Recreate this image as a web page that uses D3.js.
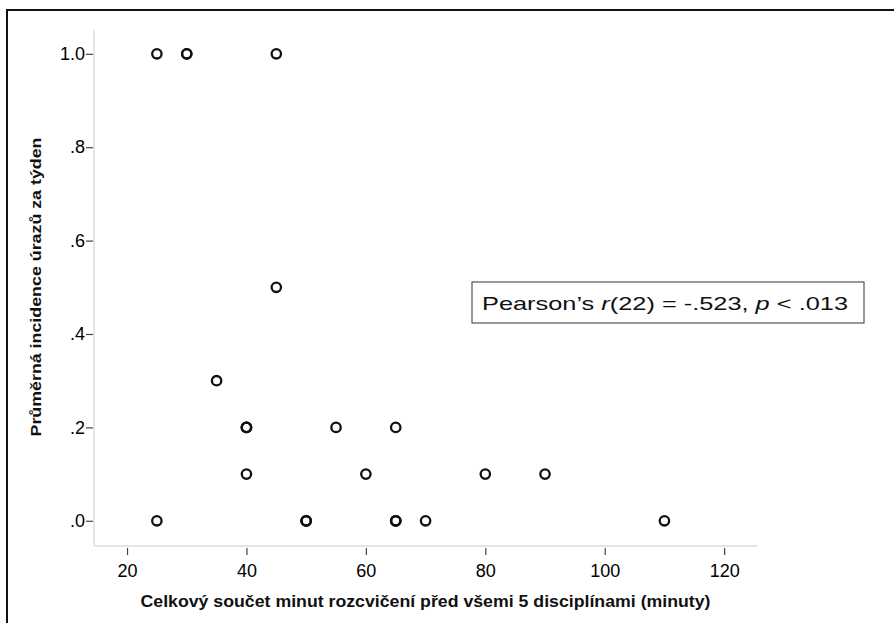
<!DOCTYPE html>
<html>
<head>
<meta charset="utf-8">
<script src="https://cdn.jsdelivr.net/npm/d3@7"></script>
<style>
  body { margin: 0; background: #fff; }
  svg { display: block; font-family: "Liberation Sans", Arial, sans-serif; }
</style>
</head>
<body>
<div id="chart"></div>
<script>
// Warm-up minutes (x) and mean injury incidence per week (y), one entry per athlete
const minutes = [25, 30, 30, 45, 45, 35, 40, 40, 40, 55, 65, 40, 60, 80, 90, 25, 50, 50, 50, 65, 65, 65, 70, 110];
const incidence = [1.0, 1.0, 1.0, 1.0, 0.5, 0.3, 0.2, 0.2, 0.2, 0.2, 0.2, 0.1, 0.1, 0.1, 0.1, 0.0, 0.0, 0.0, 0.0, 0.0, 0.0, 0.0, 0.0, 0.0];
const xTicks = [20, 40, 60, 80, 100, 120];
const yTicks = [0, 0.2, 0.4, 0.6, 0.8, 1.0];
const xLabel = "Celkový součet minut rozcvičení před všemi 5 disciplínami (minuty)";
const yLabel = "Průměrná incidence úrazů za týden";

const W = 894, H = 623;
const plot = { left: 94, right: 757, top: 30, bottom: 546 };

const svg = d3.select("#chart").append("svg")
  .attr("width", W)
  .attr("height", H);

// outer frame (runs off the right / bottom of the picture)
svg.append("rect")
  .attr("x", 7).attr("y", 10)
  .attr("width", W).attr("height", H)
  .attr("fill", "none")
  .attr("stroke", "#111")
  .attr("stroke-width", 2);

const x = d3.scaleLinear().domain([14.47, 125.5]).range([plot.left, plot.right]);
const y = d3.scaleLinear().domain([-0.054, 1.051]).range([plot.bottom, plot.top]);

const yFmt = d => d === 1 ? "1.0" : d3.format(".1f")(d).replace(/^0/, "");

// x axis
const gx = svg.append("g")
  .attr("transform", `translate(0,${plot.bottom})`)
  .call(d3.axisBottom(x).tickValues(xTicks).tickSize(9).tickPadding(9).tickSizeOuter(0));
gx.select(".domain").attr("stroke", "#dcdcdc").attr("stroke-width", 1.5)
  .attr("d", `M${plot.left},0H${plot.right}`);
gx.selectAll(".tick line").attr("stroke", "#444").attr("stroke-width", 1.2).attr("y1", 2);
gx.selectAll(".tick text").attr("font-size", 18).attr("fill", "#000")
  .attr("font-family", "Liberation Sans, Arial, sans-serif");

// y axis
const gy = svg.append("g")
  .attr("transform", `translate(${plot.left},0)`)
  .call(d3.axisLeft(y).tickValues(yTicks).tickFormat(yFmt).tickSize(7).tickPadding(2).tickSizeOuter(0));
gy.select(".domain").attr("stroke", "#dcdcdc").attr("stroke-width", 1.5)
  .attr("d", `M0,${plot.top}V${plot.bottom}`);
gy.selectAll(".tick line").attr("stroke", "#444").attr("stroke-width", 1.2).attr("x2", -8).attr("x1", -1);
gy.selectAll(".tick text").attr("font-size", 18).attr("fill", "#000")
  .attr("font-family", "Liberation Sans, Arial, sans-serif");

// points
const points = minutes.map((m, i) => ({ m: m, v: incidence[i] }));
svg.append("g")
  .selectAll("circle")
  .data(points)
  .enter()
  .append("circle")
  .attr("cx", d => x(d.m))
  .attr("cy", d => y(d.v))
  .attr("r", 4.7)
  .attr("fill", "none")
  .attr("stroke", "#111")
  .attr("stroke-width", 2.3);

// axis titles (the source picture is a little wider than tall, so stretch text)
svg.append("text")
  .attr("x", (plot.left + plot.right) / 2)
  .attr("y", 607)
  .attr("text-anchor", "middle")
  .attr("font-size", 16.5)
  .attr("font-weight", "bold")
  .attr("fill", "#111")
  .attr("textLength", 570)
  .attr("lengthAdjust", "spacingAndGlyphs")
  .text(xLabel);

svg.append("text")
  .attr("transform", `translate(41,${(plot.top + plot.bottom) / 2 - 1}) rotate(-90)`)
  .attr("text-anchor", "middle")
  .attr("font-size", 15.5)
  .attr("font-weight", "bold")
  .attr("fill", "#111")
  .attr("textLength", 299)
  .attr("lengthAdjust", "spacingAndGlyphs")
  .text(yLabel);

// correlation annotation
svg.append("rect")
  .attr("x", 472).attr("y", 282)
  .attr("width", 392).attr("height", 41)
  .attr("fill", "#fff")
  .attr("stroke", "#333")
  .attr("stroke-width", 1);

const note = svg.append("text")
  .attr("x", 482)
  .attr("y", 310)
  .attr("font-size", 19)
  .attr("fill", "#111")
  .attr("textLength", 366)
  .attr("lengthAdjust", "spacingAndGlyphs");
note.append("tspan").text("Pearson’s ");
note.append("tspan").attr("font-style", "italic").text("r");
note.append("tspan").text("(22) = -.523, ");
note.append("tspan").attr("font-style", "italic").text("p");
note.append("tspan").text(" < .013");
</script>
</body>
</html>
